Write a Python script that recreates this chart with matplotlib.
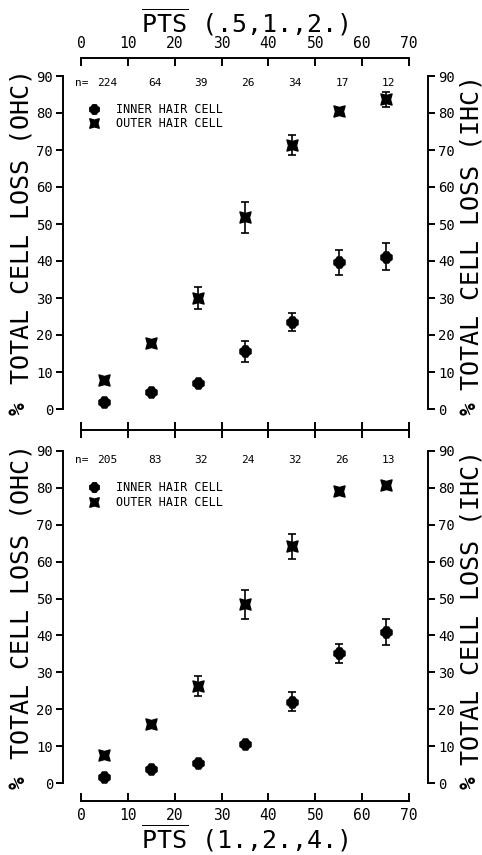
import numpy as np
import matplotlib
matplotlib.use('Agg')
import matplotlib.pyplot as plt
from matplotlib.path import Path

plt.rcParams['font.family'] = ['DejaVu Sans Mono', 'DejaVu Sans']
plt.rcParams['mathtext.fontset'] = 'custom'
plt.rcParams['mathtext.rm'] = 'DejaVu Sans Mono'

# PTS bins (x) and group sizes
pts = [5, 15, 25, 35, 45, 55, 65]
n_top = [224, 64, 39, 26, 34, 17, 12]
n_bot = [205, 83, 32, 24, 32, 26, 13]

# upper panel: PTS (.5, 1., 2.)
ihc_top = [1.8, 4.6, 6.9, 15.6, 23.5, 39.6, 41.2]
ihc_top_err = [0, 0, 0, 2.8, 2.4, 3.5, 3.6]
ohc_top = [7.8, 17.8, 29.9, 51.8, 71.4, 80.6, 83.7]
ohc_top_err = [0, 0, 3.0, 4.2, 2.7, 0, 2.0]

# lower panel: PTS (1., 2., 4.)
ihc_bot = [1.7, 3.8, 5.3, 10.5, 22.0, 35.2, 40.9]
ihc_bot_err = [0, 0, 0, 0, 2.6, 2.6, 3.5]
ohc_bot = [7.5, 15.9, 26.2, 48.4, 64.2, 79.1, 80.8]
ohc_bot_err = [0, 0, 2.7, 4.0, 3.4, 0, 0]

# outer hair cell marker: square with pinched sides
star = Path([(-1, -1), (0, -0.72), (1, -1), (0.72, 0), (1, 1), (0, 0.72),
             (-1, 1), (-0.72, 0), (-1, -1)],
            [Path.MOVETO] + [Path.LINETO] * 7 + [Path.CLOSEPOLY])
# inner hair cell marker: rounded plus
blob = Path([(-0.38, 1), (0.38, 1), (0.62, 0.62), (1, 0.38), (1, -0.38),
             (0.62, -0.62), (0.38, -1), (-0.38, -1), (-0.62, -0.62),
             (-1, -0.38), (-1, 0.38), (-0.62, 0.62), (-0.38, 1)],
            [Path.MOVETO] + [Path.LINETO] * 11 + [Path.CLOSEPOLY])

W, H = 482, 855
fig = plt.figure(figsize=(W / 100, H / 100), dpi=100)

lw = 1.4


def panel(rect, ihc, ihc_err, ohc, ohc_err, n, ny, leg_y, xpos):
    ax = fig.add_axes(rect)
    ax.set_xlim(0, 70)
    ax.set_ylim(0, 90)
    for s in ['left', 'right']:
        ax.spines[s].set_linewidth(lw)
        ax.spines[s].set_bounds(0, 90)
    ax.spines['left'].set_position(('outward', 13))
    ax.spines['right'].set_position(('outward', 14))
    other = 'bottom' if xpos == 'top' else 'top'
    ax.spines[other].set_visible(False)
    ax.spines[xpos].set_linewidth(lw)
    ax.spines[xpos].set_bounds(0, 70)
    ax.spines[xpos].set_position(('outward', 13))

    ax.set_yticks(np.arange(0, 91, 10))
    ax.set_xticks(np.arange(0, 71, 10))
    ax.yaxis.set_ticks_position('both')
    ax.tick_params(axis='y', direction='out', length=5, width=lw,
                   labelsize=10, pad=2, labelleft=True, labelright=True)
    ax.xaxis.set_ticks_position(xpos)
    ax.tick_params(axis='x', direction='in', length=6, width=lw,
                   labelsize=10.5, pad=5,
                   labeltop=(xpos == 'top'), labelbottom=(xpos == 'bottom'))

    ax.errorbar(pts, ihc, yerr=ihc_err, fmt='none', ecolor='black',
                elinewidth=1.2, capsize=3, capthick=1.2, clip_on=False)
    ax.errorbar(pts, ohc, yerr=ohc_err, fmt='none', ecolor='black',
                elinewidth=1.2, capsize=3, capthick=1.2, clip_on=False)
    ax.plot(pts, ihc, ls='none', marker=blob, ms=8, color='black',
            clip_on=False, label='INNER HAIR CELL', zorder=3)
    ax.plot(pts, ohc, ls='none', marker=star, ms=8, color='black',
            clip_on=False, label='OUTER HAIR CELL', zorder=3)

    for i, (x, v) in enumerate(zip(pts, n)):
        ax.text(x + 0.7, ny, str(v), ha='center', va='center', fontsize=8)
    ax.text(1.6, ny, 'n=', ha='right', va='center', fontsize=8)

    ax.legend(loc='upper left', bbox_to_anchor=(0.023, leg_y),
              frameon=False, fontsize=8.5, handlelength=1.0,
              handletextpad=1.3, labelspacing=0.15, borderpad=0,
              borderaxespad=0, markerscale=0.85)

    ax.text(-0.18, 0.547, 'TOTAL CELL LOSS (OHC)', rotation=90,
            ha='center', va='center', fontsize=18, transform=ax.transAxes)
    ax.text(1.19, 0.53, 'TOTAL CELL LOSS (IHC)', rotation=90,
            ha='center', va='center', fontsize=18, transform=ax.transAxes)
    ax.text(-0.19, 0.0, '%', rotation=90, ha='center', va='center',
            fontsize=15, fontweight='bold', transform=ax.transAxes)
    ax.text(1.185, 0.0, '%', rotation=90, ha='center', va='center',
            fontsize=15, fontweight='bold', transform=ax.transAxes)
    return ax


ax1 = panel([81 / W, 1 - 409 / H, 328 / W, 333 / H],
            ihc_top, ihc_top_err, ohc_top, ohc_top_err, n_top, 88.0, 0.92, 'top')
ax2 = panel([81 / W, 1 - 783 / H, 328 / W, 332 / H],
            ihc_bot, ihc_bot_err, ohc_bot, ohc_bot_err, n_bot, 87.6, 0.91, 'bottom')

# middle shared axis line between the panels
axm = fig.add_axes([81 / W, 1 - 430 / H, 328 / W, 0.0001])
axm.set_xlim(0, 70)
axm.set_xticks(np.arange(0, 71, 10))
for s in ['left', 'right', 'top']:
    axm.spines[s].set_visible(False)
axm.spines['bottom'].set_linewidth(lw)
axm.set_yticks([])
axm.tick_params(axis='x', direction='inout', length=12, width=lw,
                labelbottom=False)
axm.patch.set_visible(False)

fig.text(245 / W, 1 - 22 / H, r'$\overline{\mathrm{PTS}}$ (.5,1.,2.)',
         ha='center', va='center', fontsize=18)
fig.text(245 / W, 1 - 838 / H, r'$\overline{\mathrm{PTS}}$ (1.,2.,4.)',
         ha='center', va='center', fontsize=18)

fig.savefig('out.png', dpi=100)
